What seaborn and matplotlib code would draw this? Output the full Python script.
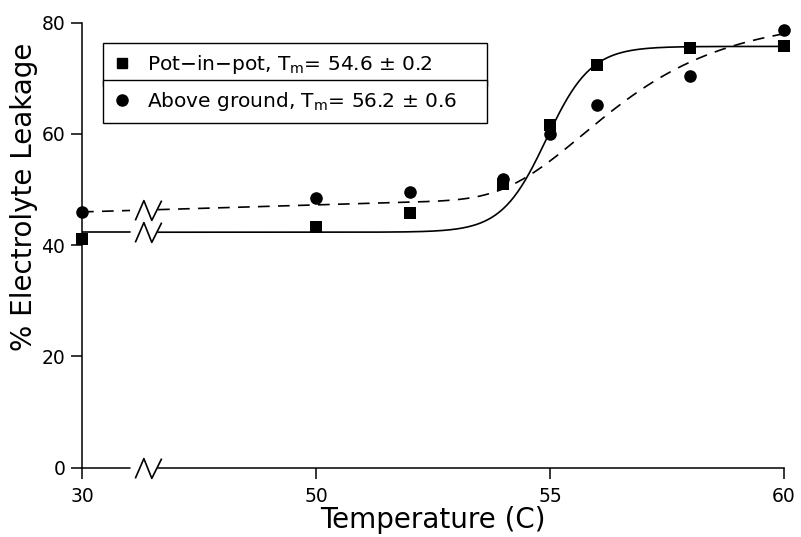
import numpy as np
import pandas as pd
import matplotlib
matplotlib.use("Agg")
import matplotlib.pyplot as plt
import seaborn as sns
from matplotlib.path import Path
from matplotlib.lines import Line2D

# ---------------- data ----------------
temps = [30, 50, 52, 54, 55, 56, 58, 60]
pot_in_pot = [41.0, 43.3, 45.7, 51.0, 61.5, 72.3, 75.4, 75.7]
above_ground = [46.0, 48.4, 49.6, 51.8, 60.0, 65.2, 70.3, 78.7]

x_ticks = [30, 50, 55, 60]
y_ticks = [0, 20, 40, 60, 80]

label_pot = "Pot\u2212in\u2212pot, T$_\\mathregular{m}$= 54.6 $\\pm$ 0.2"
label_above = "Above ground, T$_\\mathregular{m}$= 56.2 $\\pm$ 0.6"
x_label = "Temperature (C)"
y_label = "% Electrolyte Leakage"

# fitted sigmoid parameters (as drawn)
pot_lower, pot_upper, pot_mid, pot_slope = 42.3, 75.7, 54.92, 2.1
above_base, above_drift, above_rise, above_mid, above_rate = 47.2, 0.25, 30.5, 55.7, 0.6

# axis break (data units of temperature)
break_x = 35.6
gap_lo, gap_hi = 34.1, 36.5


# broken axis: 30 placed just before 50
def fwd(x):
    x = np.asarray(x, float)
    return np.where(x < 50, 45 + (x - 30) * 0.25, x)


def inv(y):
    y = np.asarray(y, float)
    return np.where(y < 50, 30 + (y - 45) * 4, y)


def pot_curve(x):
    return pot_lower + (pot_upper - pot_lower) / (1 + np.exp(-pot_slope * (x - pot_mid)))


def above_curve(x):
    return (above_base + above_drift * (fwd(x) - 50)
            + above_rise * np.exp(-np.exp(-above_rate * (x - above_mid))))


xa = np.array([30.0, gap_lo])
xb = np.linspace(gap_hi, 60, 600)
curve_x = np.concatenate([xa, xb])
seg = np.array([0] * len(xa) + [1] * len(xb))
pot_df = pd.DataFrame({"temp": curve_x, "leak": pot_curve(curve_x), "seg": seg})
above_df = pd.DataFrame({"temp": curve_x, "leak": above_curve(curve_x), "seg": seg})

sns.set_theme(style="ticks")
plt.rcParams["font.family"] = ["DejaVu Sans"]
plt.rcParams["mathtext.default"] = "regular"
plt.rcParams["text.color"] = "black"

fig = plt.figure(figsize=(8.01, 5.37), dpi=100)
ax = fig.add_axes([0.1024, 0.1294, 0.8764, 0.8287])
ax.set_xscale("function", functions=(fwd, inv))

sns.lineplot(data=pot_df, x="temp", y="leak", units="seg", estimator=None,
             color="black", lw=1.2, ax=ax, legend=False, sort=False)
sns.lineplot(data=above_df, x="temp", y="leak", units="seg", estimator=None,
             color="black", lw=1.2, ls=(0, (7, 5)), ax=ax, legend=False, sort=False)

sns.scatterplot(x=temps, y=pot_in_pot, marker="s", s=78, color="black",
                edgecolor="black", linewidth=0, clip_on=False, zorder=4, ax=ax, legend=False)
sns.scatterplot(x=temps, y=above_ground, marker="o", s=82, color="black",
                edgecolor="black", linewidth=0, clip_on=False, zorder=4, ax=ax, legend=False)

# break symbols
n_path = Path([(-1, -0.75), (-0.35, 0.75), (0.25, -0.75), (1, 0.75)],
              [Path.MOVETO, Path.LINETO, Path.LINETO, Path.LINETO])
for yb in [pot_curve(break_x), above_curve(break_x), 0]:
    ax.plot([break_x], [yb], marker=n_path, markersize=19, mfc="none", mec="black",
            mew=1.2, ls="none", clip_on=False, zorder=5)

ax.set_xlim(30, 60)
ax.set_ylim(0, 80)
ax.set_xticks(x_ticks)
ax.set_xticklabels([str(t) for t in x_ticks])
ax.set_yticks(y_ticks)
ax.set_yticklabels([str(t) for t in y_ticks])

for s in ["top", "right"]:
    ax.spines[s].set_visible(False)
ax.spines["bottom"].set_bounds(gap_hi, 60)
for s in ["bottom", "left"]:
    ax.spines[s].set_color("black")
    ax.spines[s].set_linewidth(1.1)
ax.plot([30, gap_lo], [0, 0], color="black", lw=1.1, clip_on=False, zorder=3)

ax.tick_params(axis="both", direction="out", length=8, width=1.1, colors="black",
               labelsize=13.5)
ax.tick_params(axis="x", pad=6)
ax.tick_params(axis="y", pad=4)

ax.set_xlabel(x_label, fontsize=20, color="black", labelpad=0)
ax.set_ylabel(y_label, fontsize=20, color="black")
ax.yaxis.set_label_coords(-0.062, 0.608)

h1 = Line2D([], [], marker="s", color="black", ls="none", markersize=7.5)
h2 = Line2D([], [], marker="o", color="black", ls="none", markersize=8)
common = dict(loc="upper left", mode="expand", frameon=True, fancybox=False,
              edgecolor="black", framealpha=1, borderpad=0.5, handlelength=0.9,
              handletextpad=0.8, borderaxespad=0, fontsize=14.5, labelcolor="black")
leg1 = ax.legend(handles=[h1], labels=[label_pot], bbox_to_anchor=(0.030, 0.955, 0.547, 0), **common)
leg1.get_frame().set_linewidth(1.0)
ax.add_artist(leg1)
leg2 = ax.legend(handles=[h2], labels=[label_above], bbox_to_anchor=(0.030, 0.8716, 0.547, 0), **common)
leg2.get_frame().set_linewidth(1.0)

fig.savefig("out.png", dpi=100)
